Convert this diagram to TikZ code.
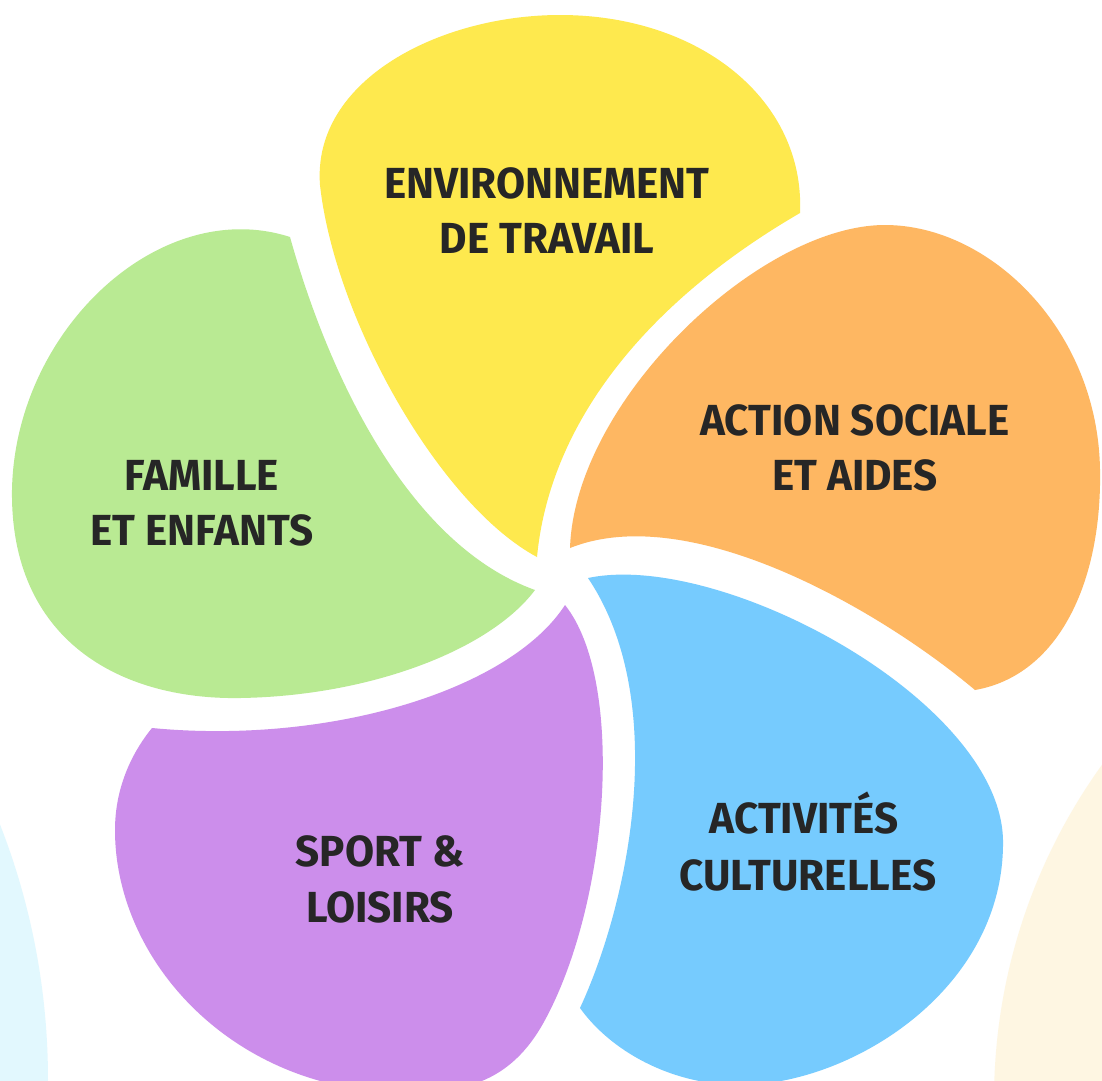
\documentclass[tikz,border=0pt]{standalone}
\usepackage{fontspec}
\newfontfamily\labelfont[FakeStretch=0.97]{Fira Sans Bold}
\definecolor{cyell}{HTML}{FEE94E}
\definecolor{corange}{HTML}{FEB762}
\definecolor{cgreen}{HTML}{B9EA93}
\definecolor{cpurple}{HTML}{CC8EEB}
\definecolor{cblue}{HTML}{76CBFE}
\definecolor{ctext}{HTML}{262626}
\definecolor{ccyanbg}{HTML}{E2F8FE}
\definecolor{ccreambg}{HTML}{FEF6E2}
\tikzset{
  lbl/.style={anchor=base, text=ctext, inner sep=0pt, font=\labelfont\fontsize{43.5}{55}\selectfont}
}
\begin{document}
\begin{tikzpicture}[x=1pt,y=-1pt]
\useasboundingbox (0,0) rectangle (1102,1080);
\clip (0,0) rectangle (1102,1080);
\fill[white] (0,0) rectangle (1102,1080);
% background circles
\fill[ccyanbg] (-653,1080) circle[radius=701];
\fill[ccreambg] (1568,1100) circle[radius=574];
% yellow
\fill[cyell] (537,557) .. controls (440,505) and (335,320) .. (320,185)
  .. controls (312,80) and (440,15) .. (560,15)
  .. controls (700,15) and (805,100) .. (800,213)
  .. controls (650,300) and (550,420) .. (537,557) -- cycle;
% orange
\fill[corange] (570,548) .. controls (690,500) and (880,610) .. (975,690)
  .. controls (1060,675) and (1102,580) .. (1100,470)
  .. controls (1098,330) and (990,225) .. (885,225)
  .. controls (760,225) and (575,400) .. (570,548) -- cycle;
% blue
\fill[cblue] (588,578) .. controls (720,550) and (1000,700) .. (1003,840)
  .. controls (1005,990) and (850,1085) .. (740,1085)
  .. controls (670,1085) and (610,1050) .. (580,1008)
  .. controls (630,900) and (670,700) .. (588,578) -- cycle;
% purple
\fill[cpurple] (565,605) .. controls (625,680) and (610,900) .. (545,1020)
  .. controls (510,1085) and (460,1095) .. (390,1092)
  .. controls (230,1085) and (115,960) .. (115,830)
  .. controls (115,790) and (130,755) .. (152,728)
  .. controls (330,745) and (510,690) .. (565,605) -- cycle;
% green
\fill[cgreen] (290,237) .. controls (160,195) and (15,330) .. (12,490)
  .. controls (10,640) and (120,700) .. (240,698)
  .. controls (370,696) and (490,650) .. (535,590)
  .. controls (410,545) and (330,380) .. (290,237) -- cycle;
% labels
\node[lbl] (env1) at (547,198) {ENVIRONNEMENT};
\node[lbl] (env2) at (547,253) {DE TRAVAIL};
\node[lbl] (act1) at (855,435) {ACTION SOCIALE};
\node[lbl] (act2) at (855,490) {ET AIDES};
\node[lbl] (fam1) at (202,490) {FAMILLE};
\node[lbl] (fam2) at (202,545) {ET ENFANTS};
\node[lbl] (spo1) at (380,866) {SPORT \&};
\node[lbl] (spo2) at (380,922) {LOISIRS};
\node[lbl] (cul1) at (804,833) {ACTIVITÉS};
\node[lbl] (cul2) at (808,890) {CULTURELLES};
\end{tikzpicture}
\end{document}
